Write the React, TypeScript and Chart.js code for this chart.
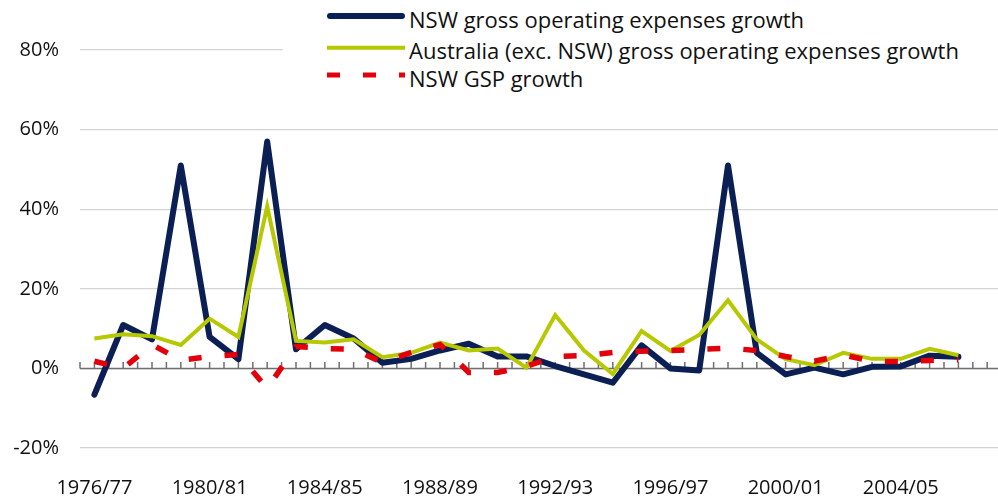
import React, { useEffect, useRef } from "react";
import { Chart, registerables } from "chart.js";

Chart.register(...registerables);

const categories = [
  "1976/77", "1977/78", "1978/79", "1979/80", "1980/81", "1981/82", "1982/83", "1983/84",
  "1984/85", "1985/86", "1986/87", "1987/88", "1988/89", "1989/90", "1990/91", "1991/92",
  "1992/93", "1993/94", "1994/95", "1995/96", "1996/97", "1997/98", "1998/99", "1999/00",
  "2000/01", "2001/02", "2002/03", "2003/04", "2004/05", "2005/06", "2006/07",
];

const labelIndexes = [0, 4, 8, 12, 16, 20, 24, 28];

const nswExpenses = [
  -6.6, 10.9, 7.3, 51.0, 7.9, 2.3, 57.0, 4.8, 10.9, 7.5, 1.4, 2.4, 4.5, 6.2, 3.0, 3.0,
  0.6, -1.5, -3.6, 5.8, 0.0, -0.5, 51.0, 3.9, -1.5, 0.2, -1.5, 0.4, 0.5, 3.2, 2.9,
];

const ausExpenses = [
  7.5, 8.6, 8.1, 5.9, 12.5, 7.9, 40.7, 6.9, 6.5, 7.3, 2.8, 3.9, 6.5, 4.5, 5.0, 0.2,
  13.4, 4.5, -1.4, 9.4, 4.4, 8.4, 17.1, 7.3, 2.3, 0.8, 3.9, 2.4, 2.4, 4.9, 3.3,
];

const nswGsp = [
  1.8, 0.0, 6.0, 2.0, 3.0, 3.5, -5.0, 5.5, 5.0, 4.8, 1.5, 4.0, 6.0, -1.0, -1.0, 0.5,
  3.0, 3.2, 4.0, 4.3, 4.5, 4.8, 5.1, 4.5, 3.0, 1.8, 3.4, 1.8, 1.7, 2.0, 2.2,
];

const seriesNames = [
  "NSW gross operating expenses growth",
  "Australia (exc. NSW) gross operating expenses growth",
  "NSW GSP growth",
];

const NAVY = "#0b1f55";
const GREEN = "#b6c800";
const RED = "#e3000b";
const FONT = "'Open Sans', sans-serif";

const toPoints = (arr: number[]) => arr.map((v, i) => ({ x: i, y: v }));

const axisTicks = {
  id: "axisTicks",
  beforeDatasetsDraw(chart: any) {
    const { ctx, chartArea } = chart;
    const x = chart.scales.x;
    const y = chart.scales.y;
    const y0 = y.getPixelForValue(0);
    ctx.save();
    ctx.strokeStyle = "#707070";
    ctx.lineWidth = 1.5;
    ctx.beginPath();
    ctx.moveTo(chartArea.left, y0);
    ctx.lineTo(chartArea.right, y0);
    for (let v = x.min; v <= x.max + 1e-9; v += 0.5) {
      const px = x.getPixelForValue(v);
      ctx.moveTo(px, y0);
      ctx.lineTo(px, y0 - 6.5);
    }
    ctx.stroke();
    ctx.restore();
  },
};

export default function App() {
  const canvasRef = useRef<HTMLCanvasElement | null>(null);

  useEffect(() => {
    if (!canvasRef.current) return;
    const chart = new Chart(canvasRef.current, {
      type: "line",
      data: {
        datasets: [
          {
            label: seriesNames[0],
            data: toPoints(nswExpenses),
            borderColor: NAVY,
            backgroundColor: NAVY,
            borderWidth: 6,
            borderCapStyle: "round",
            borderJoinStyle: "round",
            pointRadius: 0,
            tension: 0,
            order: 2,
          },
          {
            label: seriesNames[1],
            data: toPoints(ausExpenses),
            borderColor: GREEN,
            backgroundColor: GREEN,
            borderWidth: 4,
            borderJoinStyle: "miter",
            pointRadius: 0,
            tension: 0,
            order: 1,
          },
          {
            label: seriesNames[2],
            data: toPoints(nswGsp),
            borderColor: RED,
            backgroundColor: RED,
            borderWidth: 5.5,
            borderDash: [13, 23],
            borderCapStyle: "butt",
            pointRadius: 0,
            tension: 0,
            order: 0,
          },
        ],
      },
      options: {
        responsive: false,
        maintainAspectRatio: false,
        animation: false,
        layout: { padding: { top: 50, left: 0, right: 0, bottom: 0 } },
        plugins: {
          legend: { display: false },
          tooltip: { enabled: false },
        },
        scales: {
          x: {
            type: "linear",
            min: -0.5,
            max: 31.375,
            grid: { display: false },
            border: { display: false },
            afterBuildTicks: (s: any) => {
              s.ticks = labelIndexes.map((v) => ({ value: v }));
            },
            afterFit: (s: any) => {
              s.height = 49;
            },
            ticks: {
              autoSkip: false,
              maxRotation: 0,
              padding: 20,
              color: "#111",
              font: { family: FONT, size: 20 },
              callback: (v: any) => categories[v as number] ?? "",
            },
          },
          y: {
            min: -20,
            max: 80,
            afterFit: (s: any) => {
              s.width = 80;
            },
            grid: {
              drawTicks: false,
              lineWidth: 1.2,
              color: "#d4d4d4",
            },
            border: { display: false },
            ticks: {
              stepSize: 20,
              padding: 21,
              color: "#111",
              font: { family: FONT, size: 20 },
              callback: (v: any) => `${v}%`,
            },
          },
        },
      },
      plugins: [axisTicks],
    });
    return () => chart.destroy();
  }, []);

  const rows = [
    { y: 16, text: seriesNames[0], color: NAVY, width: 6, dash: "", cap: "round", textY: 19 },
    { y: 47.7, text: seriesNames[1], color: GREEN, width: 4, dash: "", cap: "butt", textY: 50 },
    { y: 75, text: seriesNames[2], color: RED, width: 5, dash: "13 23", cap: "butt", textY: 77.5 },
  ];

  return (
    <div style={{ position: "absolute", left: 0, top: 0, width: 998, height: 497, background: "#fff" }}>
      <canvas ref={canvasRef} width={998} height={497} style={{ display: "block" }} />
      <div
        style={{
          position: "absolute",
          left: 283,
          top: 0,
          width: 715,
          height: 94,
          background: "#fff",
        }}
      >
        <svg width={715} height={94} style={{ position: "absolute", left: 0, top: 0 }}>
          {rows.map((r, i) => (
            <line
              key={i}
              x1={327 - 283 + (r.cap === "round" ? 3 : 0)}
              x2={405 - 283 - (r.cap === "round" ? 3 : 0)}
              y1={r.y}
              y2={r.y}
              stroke={r.color}
              strokeWidth={r.width}
              strokeDasharray={r.dash || undefined}
              strokeLinecap={r.cap as any}
            />
          ))}
        </svg>
        {rows.map((r, i) => (
          <div
            key={i}
            style={{
              position: "absolute",
              left: 409 - 283,
              top: r.textY - 15,
              height: 30,
              lineHeight: "30px",
              fontFamily: FONT,
              fontSize: 22,
              color: "#111",
              whiteSpace: "nowrap",
            }}
          >
            {r.text}
          </div>
        ))}
      </div>
    </div>
  );
}
